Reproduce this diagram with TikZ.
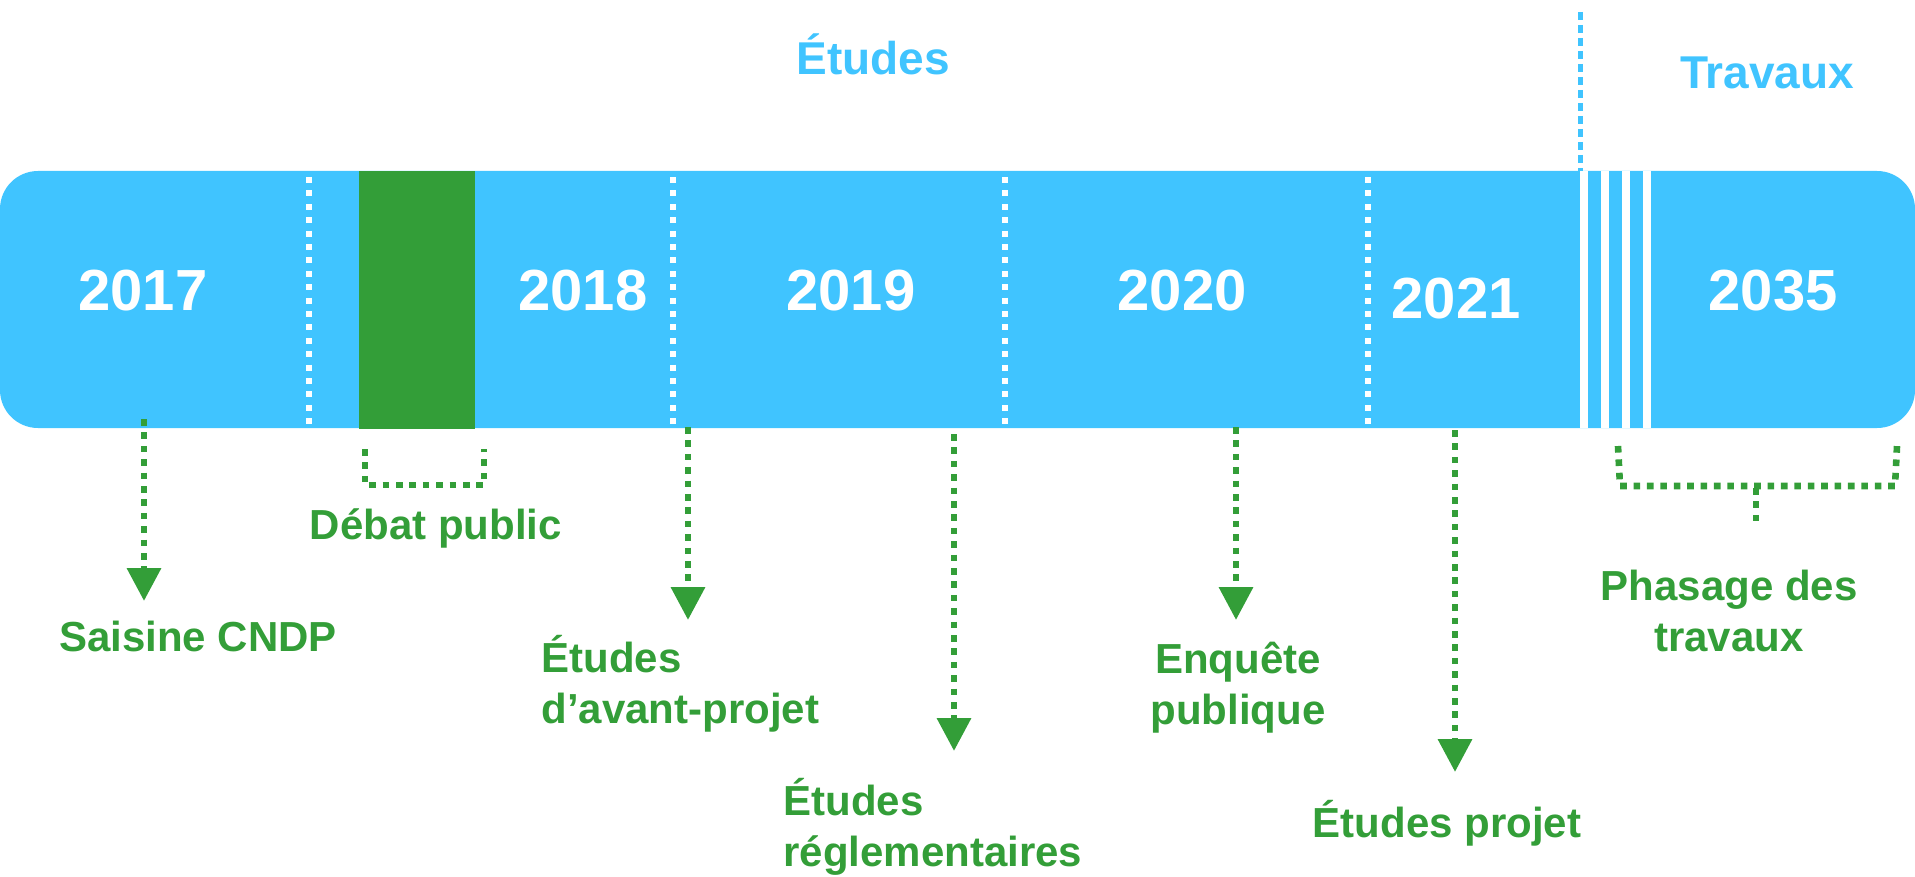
\documentclass[tikz,border=0pt]{standalone}
\usepackage{fontspec}
\setmainfont{Liberation Sans}
\usetikzlibrary{positioning,arrows.meta}
\definecolor{barblue}{RGB}{64,196,255}
\definecolor{stepgreen}{RGB}{51,158,56}
\tikzset{
  year/.style={text=white,font=\fontsize{29}{35}\selectfont\bfseries},
  phase/.style={text=barblue,font=\fontsize{23}{28}\selectfont\bfseries},
  milestone/.style={text=stepgreen,font=\fontsize{21}{25.5}\selectfont\bfseries,inner sep=0pt},
  greendots/.style={stepgreen,line width=3.3pt,dash pattern=on 3.3pt off 3.4pt},
  whitedots/.style={white,line width=3pt,dash pattern=on 3pt off 3.7pt},
  pointer/.style={greendots,-{Triangle[width=16.5pt,length=16.5pt]}},
}
\begin{document}
\begin{tikzpicture}[x=0.5pt,y=-0.5pt]
\useasboundingbox (0,0) rectangle (1915,877);
% frise
\fill[barblue,rounded corners=19pt] (0,171) rectangle (1915,428);
\fill[stepgreen] (359,171) rectangle (475,429);
\foreach \xx in {309,673,1005,1368}
  \draw[whitedots] (\xx,177) -- (\xx,425);
\foreach \xx in {1584,1605,1626,1647}
  \draw[white,line width=4pt] (\xx,171) -- (\xx,428);
\draw[barblue,line width=2.5pt,dash pattern=on 4pt off 2.5pt] (1580,12) -- (1580,171);

\node[phase] (etudes) at (873,54) {Études};
\node[phase] (travaux) at (1767,73) {Travaux};

\node[year] (y2017) at (143,291) {2017};
\node[year] (y2018) at (583,291) {2018};
\node[year] (y2019) at (851,291) {2019};
\node[year] (y2020) at (1182,291) {2020};
\node[year] (y2021) at (1456,299) {2021};
\node[year] (y2035) at (1773,291) {2035};

% jalons
\node[milestone] (saisine) at (198,636) {Saisine CNDP};
\node[milestone] (debat) at (436,528) {Débat public};
\node[milestone,align=left,anchor=west] (avp) at (541,684) {Études\\d’avant-projet};
\node[milestone,align=left,anchor=west] (regl) at (783,827) {Études\\réglementaires};
\node[milestone,align=center] (enquete) at (1238,688) {Enquête\\publique};
\node[milestone] (projet) at (1447,823) {Études projet};
\node[milestone,align=center] (phasage) at (1729,611) {Phasage des\\travaux};

\coordinate (saisine-from) at (144,419);
\coordinate (saisine-to) at (144,601);
\coordinate (avp-from) at (688,427);
\coordinate (avp-to) at (688,620);
\coordinate (regl-from) at (954,434);
\coordinate (regl-to) at (954,751);
\coordinate (enquete-from) at (1236,427);
\coordinate (enquete-to) at (1236,620);
\coordinate (projet-from) at (1455,430);
\coordinate (projet-to) at (1455,772);
\draw[pointer] (saisine-from) -- (saisine-to);
\draw[pointer] (avp-from) -- (avp-to);
\draw[pointer] (regl-from) -- (regl-to);
\draw[pointer] (enquete-from) -- (enquete-to);
\draw[pointer] (projet-from) -- (projet-to);

% accolades
\draw[greendots] (365,449) -- (365,485) -- (484,485) -- (484,449);
\draw[greendots] (1618,446) -- (1620,486) -- (1895,486) -- (1897,446);
\draw[greendots] (1756,488) -- (1756,525);
\end{tikzpicture}
\end{document}
